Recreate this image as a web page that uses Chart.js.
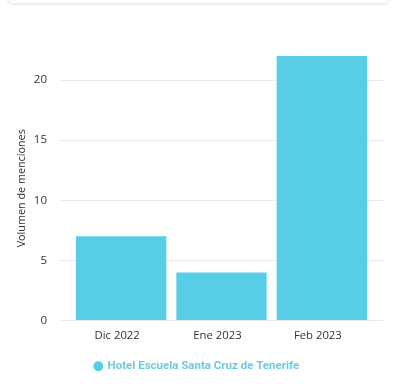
<!DOCTYPE html>
<html><head><meta charset="utf-8">
<script src="https://cdn.jsdelivr.net/npm/chart.js@4"></script>
<style>
html,body{margin:0;padding:0;background:#fff;}
#wrap{position:relative;width:393px;height:386px;}
#card{position:absolute;left:7px;top:-10px;width:381px;height:12px;border:1px solid #ececec;border-radius:6px;box-shadow:0 1px 3px rgba(0,0,0,0.08);background:#fff;}
canvas{position:absolute;left:0;top:0;}
</style></head>
<body>
<div id="wrap"><canvas id="c" width="393" height="386"></canvas><div id="card"></div></div>
<script>
const categories = ['Dic 2022', 'Ene 2023', 'Feb 2023'];
const seriesName = 'Hotel Escuela Santa Cruz de Tenerife';
const values = [7, 4, 22];
const yTicks = [0, 5, 10, 15, 20];
const yMax = 22;

const barColor = '#57cde6';
const gridColor = '#e9e9e9';
const keepTicks = s => { s.ticks = yTicks.map(v => ({value: v})); };

new Chart(document.getElementById('c'), {
  type: 'bar',
  data: {
    labels: categories,
    datasets: [{
      label: seriesName,
      data: values,
      backgroundColor: barColor,
      borderWidth: 0,
      barPercentage: 0.9,
      categoryPercentage: 1.0
    }]
  },
  options: {
    responsive: false,
    animation: false,
    layout: {padding: {top: 56, left: 11, right: 10, bottom: 4}},
    plugins: {
      legend: {
        position: 'bottom',
        labels: {
          usePointStyle: true,
          pointStyle: 'circle',
          boxHeight: 7,
          boxWidth: 7,
          padding: 10,
          color: '#6ccae0',
          font: {family: 'Roboto', size: 11.5, weight: 'bold'}
        }
      },
      tooltip: {enabled: false}
    },
    scales: {
      x: {
        grid: {display: false, drawTicks: false},
        border: {display: false},
        ticks: {color: '#333', padding: 8, labelOffset: -4, font: {family: 'Open Sans', size: 11.3}},
        afterFit: s => { s.height = 30; }
      },
      y: {
        min: 0, max: yMax,
        afterBuildTicks: keepTicks,
        grid: {color: gridColor, tickLength: 11},
        border: {display: false},
        ticks: {color: '#333', padding: 13, font: {family: 'Open Sans', size: 11.5}},
        title: {display: true, text: 'Volumen de menciones', color: '#333', font: {family: 'Open Sans', size: 10.8}},
        afterFit: s => { s.width = 60; }
      },
      y2: {
        position: 'right',
        min: 0, max: yMax,
        afterBuildTicks: keepTicks,
        grid: {color: gridColor, tickLength: 11, drawOnChartArea: false},
        border: {display: false},
        ticks: {display: false}
      }
    }
  }
});
</script>
</body></html>
